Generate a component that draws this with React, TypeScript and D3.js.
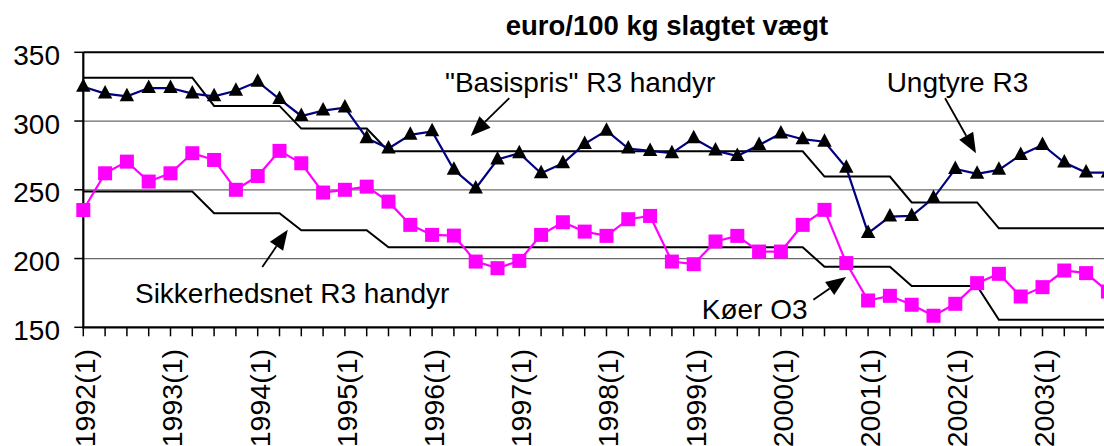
import React from 'react';
import * as d3 from 'd3';

const years = [1992, 1993, 1994, 1995, 1996, 1997, 1998, 1999, 2000, 2001, 2002, 2003];
const quarterNums = [1, 2, 3, 4];
const categories = years.flatMap((y) => quarterNums.map((q) => `${y}(${q})`));
const yTicks = [150, 200, 250, 300, 350];
const title = 'euro/100 kg slagtet vægt';

// Ungtyre R3 (young bulls) – triangles
const ungtyre = [
  325, 320, 318, 324, 324, 320, 318, 322, 328.6, 316, 303.7, 307.6, 309.8, 287.5, 280, 290,
  292.5, 264.5, 251, 272, 276.6, 262, 269.3, 283.4, 293, 280, 278.3, 276.6, 287.5, 278.5, 274.6, 282.6,
  291, 286.8, 285, 266, 218.5, 230.5, 231, 244, 265.2, 261.6, 264.5, 275.4, 282.6, 269.8, 262.5, 262.5,
];
// Køer O3 (cows) – squares
const koer = [
  235.3, 262, 270.5, 256, 262, 276.6, 271.7, 250, 260, 278.3, 269.3, 248, 250, 252.3, 241.4, 224.5,
  217.2, 216.7, 197.8, 193, 198.3, 217.2, 226.4, 219.6, 216.5, 228.6, 231, 197.8, 195.9, 212.4, 216.5, 205.1,
  205.1, 224.5, 235.4, 196.7, 169.5, 172.9, 166.4, 158.4, 167.1, 182.1, 188.9, 172.4, 179.2, 191.3, 189.4, 176,
];
// "Basispris" R3 handyr
const basispris = [
  331.5, 331.5, 331.5, 331.5, 331.5, 331.5, 311, 311, 311, 311, 294.5, 294.5, 294.5, 294.5, 278, 278,
  278, 278, 278, 278, 278, 278, 278, 278, 278, 278, 278, 278, 278, 278, 278, 278,
  278, 278, 259.6, 259.6, 259.6, 259.6, 240.8, 240.8, 240.8, 240.8, 222, 222, 222, 222, 222, 222,
];
// Sikkerhedsnet R3 handyr
const sikkerhedsnet = [
  248.7, 248.7, 248.7, 248.7, 248.7, 248.7, 233, 233, 233, 233, 220.6, 220.6, 220.6, 220.6, 208.2, 208.2,
  208.2, 208.2, 208.2, 208.2, 208.2, 208.2, 208.2, 208.2, 208.2, 208.2, 208.2, 208.2, 208.2, 208.2, 208.2, 208.2,
  208.2, 208.2, 194, 194, 194, 194, 180, 180, 180, 180, 155.5, 155.5, 155.5, 155.5, 155.5, 155.5,
];

// annotations in data space: [quarter index, value]
const annotations = [
  { text: '"Basispris" R3 handyr', at: [16.59, 321.2], from: [19.54, 316.6], to: [17.77, 289.2] },
  { text: 'Ungtyre R3', at: [36.85, 321.4], from: [39.53, 316.6], to: [40.95, 276.6] },
  { text: 'Sikkerhedsnet R3 handyr', at: [2.37, 167.6], from: [8.21, 193.8], to: [9.38, 220.9] },
  { text: 'Køer O3', at: [28.37, 156], from: [33.49, 170], to: [34.99, 186.5] },
];

const W = 1104;
const H = 446;
const left = 83.3;
const step = 21.8;
const top = 52.3;
const bottom = 327.3;
const FONT = '"Liberation Sans", Arial, sans-serif';

export default function App() {
  const x = d3.scaleLinear().domain([0, categories.length - 1]).range([left, left + (categories.length - 1) * step]);
  const y = d3.scaleLinear().domain([150, 350]).range([bottom, top]);
  const line = d3
    .line<number>()
    .x((_, i) => x(i))
    .y((d) => y(d));

  const xRight = x(categories.length - 1) + 20;

  return (
    <svg
      width={W}
      height={H}
      style={{ position: 'absolute', left: 0, top: 0, background: '#fff' }}
      fontFamily={FONT}
    >
      <rect x={0} y={0} width={W} height={H} fill="#fff" />
      <text x={667} y={35} textAnchor="middle" fontSize={27.5} fontWeight="bold">
        {title}
      </text>

      {/* gridlines */}
      {yTicks
        .filter((t) => t !== 150 && t !== 350)
        .map((t) => (
          <line key={t} x1={left} x2={xRight} y1={y(t)} y2={y(t)} stroke="#6a6a6a" strokeWidth={1.3} />
        ))}
      <line x1={left} x2={xRight} y1={y(350)} y2={y(350)} stroke="#000" strokeWidth={2} />

      {/* y axis */}
      <line x1={left} x2={left} y1={top} y2={bottom + 1} stroke="#000" strokeWidth={2.2} />
      {yTicks.map((t) => (
        <g key={t}>
          <line x1={left - 9} x2={left} y1={y(t)} y2={y(t)} stroke="#000" strokeWidth={1.5} />
          <text x={60} y={y(t) + 12.5} textAnchor="end" fontSize={28}>
            {t}
          </text>
        </g>
      ))}

      {/* x axis */}
      <line x1={left - 1} x2={xRight} y1={bottom} y2={bottom} stroke="#000" strokeWidth={2.2} />
      {categories.map((c, i) => (
        <line key={c} x1={x(i)} x2={x(i)} y1={bottom} y2={bottom + 9} stroke="#000" strokeWidth={1.5} />
      ))}
      {categories.map((c, i) =>
        c.endsWith('(1)') ? (
          <text
            key={'l' + c}
            transform={`translate(${x(i)},349) rotate(-90)`}
            textAnchor="end"
            dy="0.42em"
            fontSize={28.5}
          >
            {c}
          </text>
        ) : null
      )}

      {/* step lines */}
      <path d={line(basispris) || ''} fill="none" stroke="#000" strokeWidth={2} />
      <path d={line(sikkerhedsnet) || ''} fill="none" stroke="#000" strokeWidth={2} />

      {/* Køer O3 */}
      <path d={line(koer) || ''} fill="none" stroke="#ff00ff" strokeWidth={2.2} />
      {koer.map((v, i) => (
        <rect key={'k' + i} x={x(i) - 7} y={y(v) - 7} width={14} height={14} fill="#ff00ff" />
      ))}

      {/* Ungtyre R3 */}
      <path d={line(ungtyre) || ''} fill="none" stroke="#000080" strokeWidth={2.2} />
      {ungtyre.map((v, i) => (
        <path
          key={'u' + i}
          transform={`translate(${x(i)},${y(v)})`}
          d="M0,-8.5 L7.2,5 L-7.2,5 Z"
          fill="#000"
        />
      ))}

      {/* annotations */}
      {annotations.map((a) => {
        const x1 = x(a.from[0]);
        const y1 = y(a.from[1]);
        const x2 = x(a.to[0]);
        const y2 = y(a.to[1]);
        const ang = Math.atan2(y2 - y1, x2 - x1);
        const len = 20;
        const hw = 8;
        const bx = x2 - len * Math.cos(ang);
        const by = y2 - len * Math.sin(ang);
        const px = -Math.sin(ang) * hw;
        const py = Math.cos(ang) * hw;
        return (
          <g key={a.text}>
            <text x={x(a.at[0])} y={y(a.at[1])} fontSize={28}>
              {a.text}
            </text>
            <line x1={x1} y1={y1} x2={bx} y2={by} stroke="#000" strokeWidth={1.8} />
            <polygon points={`${x2},${y2} ${bx + px},${by + py} ${bx - px},${by - py}`} fill="#000" />
          </g>
        );
      })}
    </svg>
  );
}
